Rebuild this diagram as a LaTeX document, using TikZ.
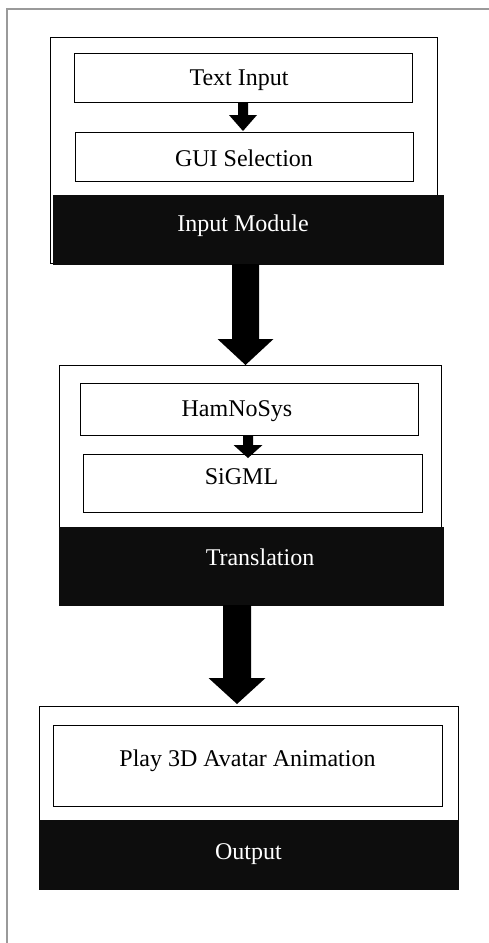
\documentclass[tikz,border=0pt]{standalone}
\usepackage{fontspec}
\setmainfont{Liberation Serif}
\usetikzlibrary{calc}
\definecolor{barblack}{HTML}{0D0D0D}
\definecolor{framegray}{HTML}{9A9A9A}
\tikzset{
  box/.style={draw=black, line width=1pt, fill=white, inner sep=0pt, outer sep=0pt,
    anchor=north west, font=\fontsize{24}{28}\selectfont, text depth=4pt},
  bar/.style={box, draw=barblack, fill=barblack, text=white},
  arrowfill/.style={fill=black},
}
\newcommand\blockarr[7]{%
  \fill[arrowfill] let \p1=(#1.south), \p2=(#2.north) in
    ({#3pt-#4pt},\y1) -- ({#3pt-#4pt},{\y2-#7pt+#6pt}) -- ({#3pt-#5pt},{\y2-#7pt+#6pt})
    -- ({#3pt},{\y2-#7pt}) -- ({#3pt+#5pt},{\y2-#7pt+#6pt}) -- ({#3pt+#4pt},{\y2-#7pt+#6pt})
    -- ({#3pt+#4pt},\y1) -- cycle;}
\begin{document}
\begin{tikzpicture}[x=1pt,y=-1pt]
\useasboundingbox (0,0) rectangle (489,943);
\draw[framegray, line width=1.5pt] (7,943) -- (7,9) -- (489,9);
% Input module
\node[box, minimum width=387.7pt, minimum height=225.5pt] (imout) at (50,37.7) {};
\node[box, minimum width=338pt, minimum height=49pt, text height=19pt] (ti) at (74,53) {Text Input\hspace*{8pt}};
\node[box, minimum width=338pt, minimum height=49pt, text height=24pt] (gui) at (75,132) {GUI Selection};
\node[bar, minimum width=390pt, minimum height=69pt, text height=8pt] (imbar) at (53,195) {Input Module\hspace*{10pt}};
% Translation
\node[box, minimum width=382pt, minimum height=240pt] (trout) at (59,365) {};
\node[box, minimum width=338pt, minimum height=52pt, text height=19.4pt] (ham) at (80,383) {HamNoSys\hspace*{24pt}};
\node[box, minimum width=339pt, minimum height=58pt, text height=6pt] (sig) at (83,454) {SiGML\hspace*{22pt}};
\node[bar, minimum width=384pt, minimum height=78pt, text height=2pt] (trbar) at (59,527) {\hspace*{18pt}Translation};
% Output
\node[box, minimum width=419pt, minimum height=183pt] (outbox) at (39,706) {};
\node[box, minimum width=389pt, minimum height=81pt, text height=6pt] (play) at (53,725) {Play 3D Avatar Animation};
\node[bar, minimum width=419pt, minimum height=69pt, text height=13pt] (outbar) at (39,820) {Output};
% arrows
\blockarr{ti}{gui}{243}{5}{14}{16}{-1}
\blockarr{imbar}{trout}{245.5}{13.5}{28}{26}{0}
\blockarr{ham}{sig}{248}{5}{14.5}{13}{4}
\blockarr{trbar}{outbox}{237}{14}{28.5}{26}{-2}
\end{tikzpicture}
\end{document}
